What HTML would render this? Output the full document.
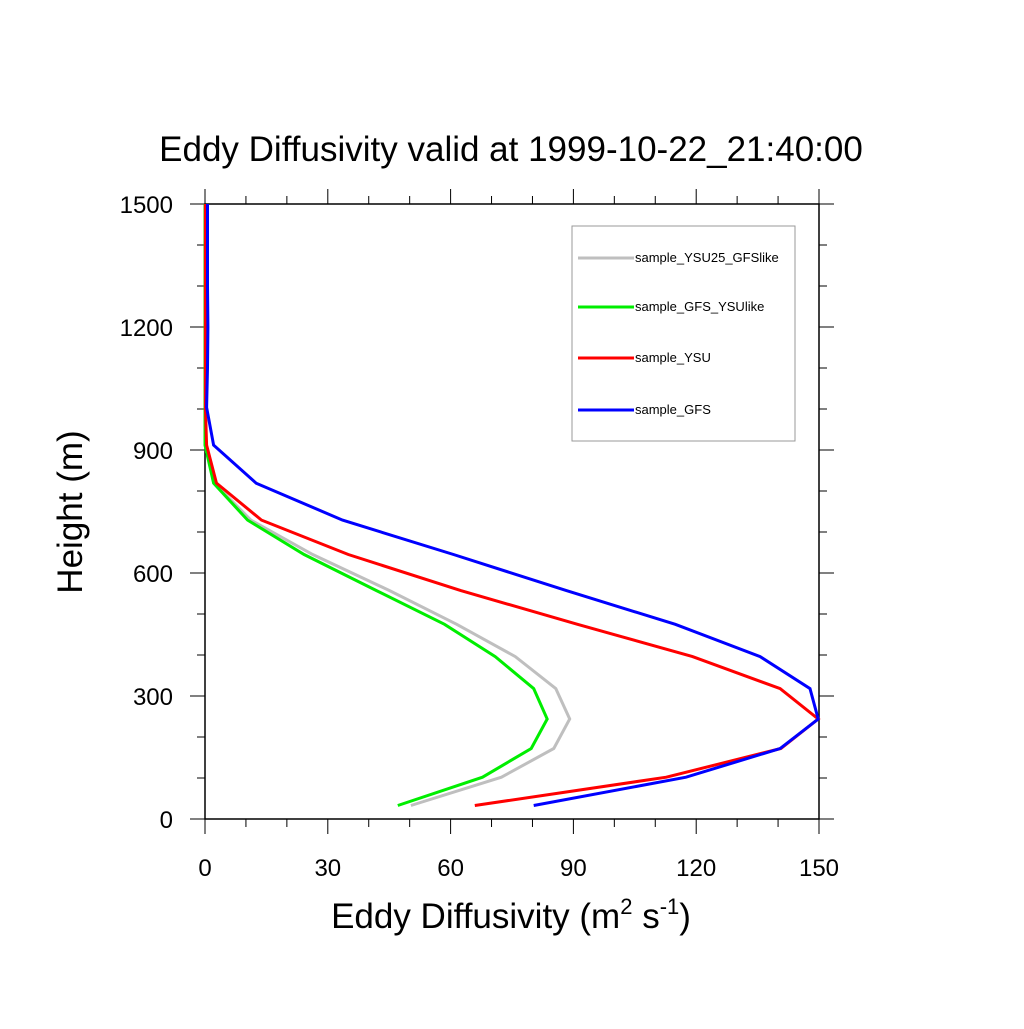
<!DOCTYPE html>
<html><head><meta charset="utf-8"><style>
body{margin:0;background:#fff}
svg text{font-family:"Liberation Sans",Arial,sans-serif}
</style></head><body>
<svg id="chart" width="1024" height="1024" viewBox="0 0 1024 1024" xmlns="http://www.w3.org/2000/svg">
<rect width="1024" height="1024" fill="#fff"/>
<text x="511" y="161" font-size="35" text-anchor="middle">Eddy Diffusivity valid at 1999-10-22_21:40:00</text>
<g id="axes"></g>
<g id="series"></g>
<g id="legend"></g>
<text x="511" y="928" font-size="35" text-anchor="middle">Eddy Diffusivity (m<tspan font-size="22" dy="-14">2</tspan><tspan dy="14"> s</tspan><tspan font-size="22" dy="-14">-1</tspan><tspan dy="14">)</tspan></text>
<text transform="translate(82,512) rotate(-90)" font-size="35" text-anchor="middle">Height (m)</text>
</svg>
<script>
const heights=[33,102,172,244,318,396,475,557,645,729,819,912,1004,1100,1200,1300,1400,1500];
const gfs=[80.3,117.5,140.5,149.8,147.8,135.6,114.9,88.3,60.7,33.6,12.5,2.1,0.4,0.6,0.7,0.6,0.6,0.6];
const ysu=[65.9,112.7,140.7,149.8,140.5,119.1,91.0,62.5,35.0,13.8,2.8,0.4,0.1,0.1,0.1,0.1,0.1,0.1];
const gfsYsulike=[47.1,67.8,79.7,83.6,80.3,70.9,58.5,41.9,24.2,10.4,2.1,0,0,0,0,0,0,0];
const ysu25Gfslike=[50.3,72.4,85.2,89.1,85.7,75.8,61.5,45.1,26.3,11.2,2.3,0,0,0,0,0,0,0];
const xTicks=[0,30,60,90,120,150];
const yTicks=[0,300,600,900,1200,1500];
const seriesNames=["sample_YSU25_GFSlike","sample_GFS_YSUlike","sample_YSU","sample_GFS"];
const seriesColors=["#bfbfbf","#00ee00","#ff0000","#0000ff"];
const seriesData=[ysu25Gfslike,gfsYsulike,ysu,gfs];

const NS="http://www.w3.org/2000/svg";
const X0=205,X1=819,Y0=819,Y1=204;
const xs=v=>X0+(v-0)/(150-0)*(X1-X0);
const ys=v=>Y0-(v-0)/(1500-0)*(Y0-Y1);
function mk(tag,attrs,parent){const e=document.createElementNS(NS,tag);for(const k in attrs)e.setAttribute(k,attrs[k]);parent.appendChild(e);return e;}
const axes=document.getElementById('axes');
const frame=mk('rect',{x:X0,y:Y1,width:X1-X0,height:Y0-Y1,fill:'none',stroke:'#000','stroke-width':1.5},axes);


for(let v=0;v<=150;v+=10){
  const L=(v%30===0)?15:8;
  const x=xs(v);
  const t=mk('path',{d:`M${x},${Y0}V${Y0+L}M${x},${Y1}V${Y1-L}`,stroke:'#000','stroke-width':1},axes);
  
  
}
for(let v=0;v<=1500;v+=100){
  const L=(v%300===0)?15:8;
  const y=ys(v);
  const t=mk('path',{d:`M${X0},${y}H${X0-L}M${X1},${y}H${X1+L}`,stroke:'#000','stroke-width':1},axes);
  
  
}
xTicks.forEach(v=>{
  const t=mk('text',{x:xs(v),y:Y0+57,'font-size':24,'text-anchor':'middle'},axes);
  t.textContent=String(v);
  
  
});
yTicks.forEach(v=>{
  const t=mk('text',{x:X0-32,y:ys(v)+9,'font-size':24,'text-anchor':'end'},axes);
  t.textContent=String(v);
  
  
});
const sg=document.getElementById('series');
seriesData.forEach((d,i)=>{
  const pts=d.map((v,j)=>xs(v).toFixed(1)+','+ys(heights[j]).toFixed(1)).join(' ');
  const p=mk('polyline',{points:pts,fill:'none',stroke:seriesColors[i],'stroke-width':3,'stroke-linejoin':'miter'},sg);
  
  
});
const lg=document.getElementById('legend');
const box=mk('rect',{x:572,y:226,width:223,height:215,fill:'#fff',stroke:'#999','stroke-width':1},lg);


const ly=[258,307,358,410];
seriesNames.forEach((n,i)=>{
  const l=mk('line',{x1:578,x2:634,y1:ly[i],y2:ly[i],stroke:seriesColors[i],'stroke-width':3},lg);
  
  
  const t=mk('text',{x:635,y:ly[i]+4,'font-size':13},lg);
  t.textContent=n;
  
  
});
</script>
</body></html>
